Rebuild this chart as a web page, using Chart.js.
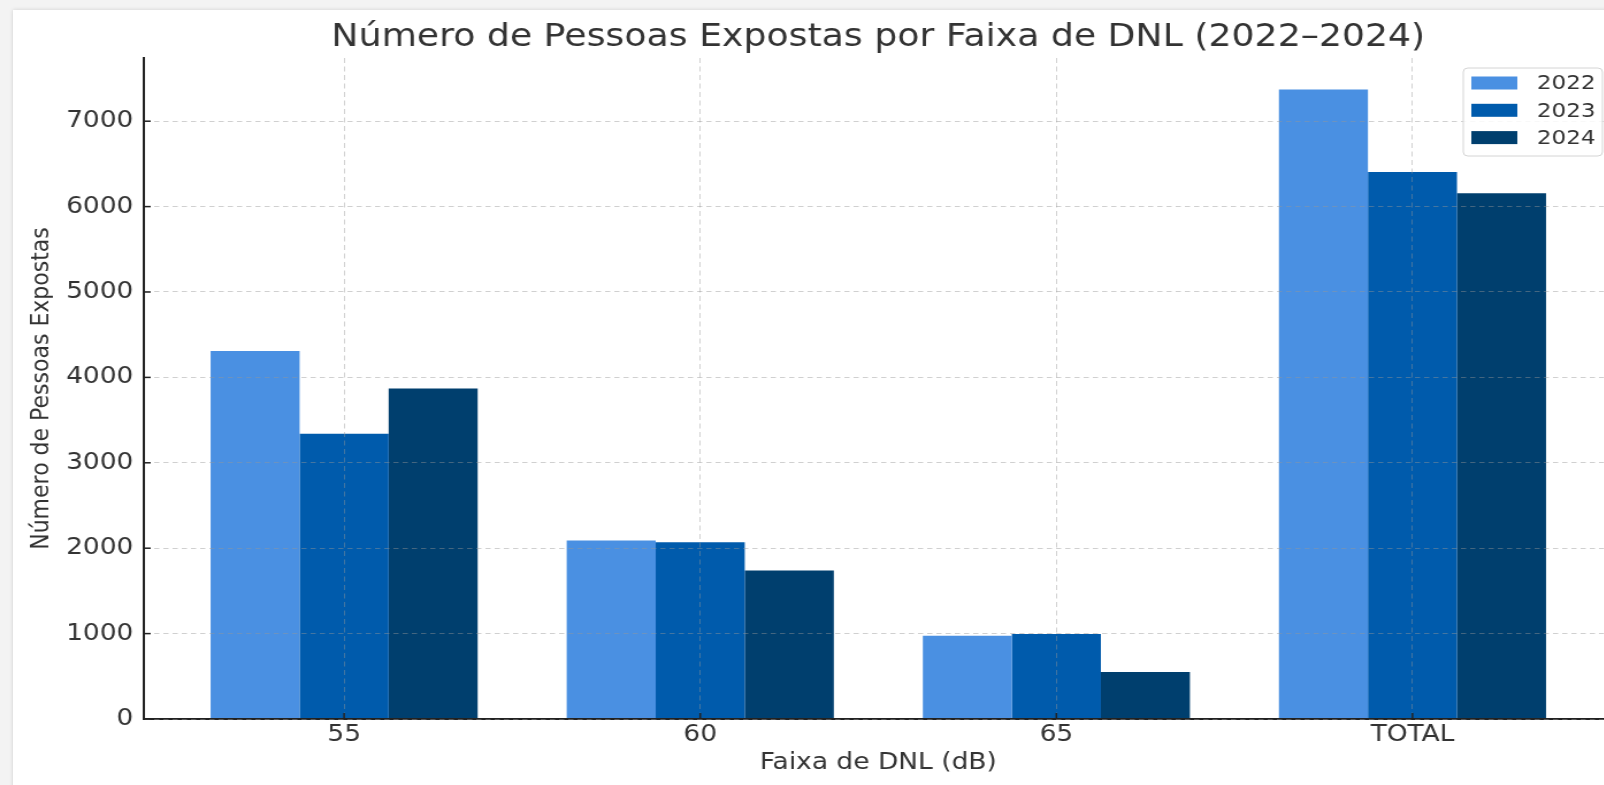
<!DOCTYPE html>
<html>
<head>
<meta charset="utf-8">
<title>Número de Pessoas Expostas</title>
<script src="https://cdn.jsdelivr.net/npm/chart.js@4/dist/chart.umd.min.js"></script>
<style>
  body {
    margin: 0;
    width: 1604px;
    height: 785px;
    overflow: hidden;
    position: relative;
    background: #f3f3f3;
  }
  #panel {
    position: absolute;
    left: 13px;
    top: 10px;
    width: 1700px;
    height: 900px;
    background: #ffffff;
    box-shadow: 0 0 4px rgba(0, 0, 0, 0.15);
  }
  #chart {
    position: absolute;
    left: 0;
    top: 0;
  }
</style>
</head>
<body>
<div id="panel"></div>
<canvas id="chart" width="1410" height="785" style="width:1621.5px;height:785px"></canvas>
<script>
const categories = ["55", "60", "65", "TOTAL"];
const years = ["2022", "2023", "2024"];
const people2022 = [4310, 2090, 975, 7370];
const people2023 = [3340, 2070, 995, 6405];
const people2024 = [3870, 1740, 550, 6157];
const yTicks = [0, 1000, 2000, 3000, 4000, 5000, 6000, 7000];
const yMax = 7740;

const chartTitle = "Número de Pessoas Expostas por Faixa de DNL (2022–2024)";
const xTitle = "Faixa de DNL (dB)";
const yTitle = "Número de Pessoas Expostas";

const barColors = ["#4A90E2", "#005BAC", "#003F6E"];
const textColor = "#333333";
const gridColor = "rgba(150,150,150,0.45)";
const fontFamily = "'DejaVu Sans', sans-serif";

function toPoints(values) {
  return values.map((v, i) => ({ x: i, y: v }));
}

// title, inward tick marks and the framed legend
const extras = {
  id: "extras",
  afterDraw(chart) {
    const ctx = chart.ctx;
    const area = chart.chartArea;
    const xs = chart.scales.x;
    const ys = chart.scales.y;
    ctx.save();

    ctx.strokeStyle = "#222222";
    ctx.lineWidth = 1.5;
    ys.ticks.forEach((t) => {
      const y = ys.getPixelForValue(t.value);
      ctx.beginPath();
      ctx.moveTo(area.left, y);
      ctx.lineTo(area.left + 6, y);
      ctx.stroke();
    });
    xs.ticks.forEach((t) => {
      const x = xs.getPixelForValue(t.value);
      ctx.beginPath();
      ctx.moveTo(x, area.bottom);
      ctx.lineTo(x, area.bottom - 6);
      ctx.stroke();
    });

    ctx.fillStyle = textColor;
    ctx.font = "31.5px " + fontFamily;
    ctx.textAlign = "center";
    ctx.textBaseline = "middle";
    ctx.fillText(chartTitle, (area.left + area.right) / 2, 38);

    const boxW = 121;
    const boxH = 88;
    const boxX = area.right - 9 - boxW;
    const boxY = area.top + 10;
    ctx.beginPath();
    ctx.roundRect(boxX, boxY, boxW, boxH, 4);
    ctx.fillStyle = "rgba(255,255,255,0.85)";
    ctx.fill();
    ctx.strokeStyle = "#d4d4d4";
    ctx.lineWidth = 1;
    ctx.stroke();

    ctx.font = "20px " + fontFamily;
    ctx.textAlign = "left";
    chart.data.datasets.forEach((ds, i) => {
      const cy = boxY + 15 + i * 27.3;
      ctx.fillStyle = ds.backgroundColor;
      ctx.fillRect(boxX + 7, cy - 6.5, 40, 13);
      ctx.fillStyle = textColor;
      ctx.fillText(ds.label, boxX + 64, cy + 1);
    });

    ctx.restore();
  },
};

new Chart(document.getElementById("chart"), {
  type: "bar",
  data: {
    datasets: [
      { label: years[0], data: toPoints(people2022), backgroundColor: barColors[0] },
      { label: years[1], data: toPoints(people2023), backgroundColor: barColors[1] },
      { label: years[2], data: toPoints(people2024), backgroundColor: barColors[2] },
    ],
  },
  options: {
    responsive: false,
    animation: false,
    devicePixelRatio: 1,
    layout: { padding: { top: 58, right: 8, bottom: 0, left: 0 } },
    datasets: { bar: { categoryPercentage: 0.75, barPercentage: 1 } },
    plugins: {
      legend: { display: false },
      title: { display: false },
      tooltip: { enabled: false },
    },
    scales: {
      x: {
        type: "linear",
        min: -0.5625,
        max: 3.5625,
        offset: false,
        afterBuildTicks: (scale) => {
          scale.ticks = categories.map((c, i) => ({ value: i }));
        },
        afterFit: (scale) => {
          scale.height = 66;
        },
        ticks: {
          callback: (value, index) => categories[index],
          color: textColor,
          font: { family: fontFamily, size: 23 },
          padding: 2,
          maxRotation: 0,
          autoSkip: false,
        },
        grid: { offset: false, color: gridColor, lineWidth: 1, drawTicks: false, z: 1 },
        border: { color: "#222222", width: 2, dash: [5, 3.5], z: 1 },
        title: {
          display: true,
          text: xTitle,
          color: textColor,
          font: { family: fontFamily, size: 23 },
          padding: { top: 0, bottom: 8 },
        },
      },
      y: {
        min: 0,
        max: yMax,
        afterBuildTicks: (scale) => {
          scale.ticks = yTicks.map((v) => ({ value: v }));
        },
        afterFit: (scale) => {
          scale.width = 125;
        },
        ticks: {
          callback: (value) => String(value),
          color: textColor,
          font: { family: fontFamily, size: 23 },
          padding: 9,
        },
        grid: { color: gridColor, lineWidth: 1, drawTicks: false, z: 1 },
        border: { color: "#222222", width: 2, dash: [4.5, 3.5], z: 1 },
        title: {
          display: true,
          text: yTitle,
          color: textColor,
          font: { family: fontFamily, size: 22 },
          padding: { top: 23, bottom: 0 },
        },
      },
    },
  },
  plugins: [extras],
});
</script>
</body>
</html>
